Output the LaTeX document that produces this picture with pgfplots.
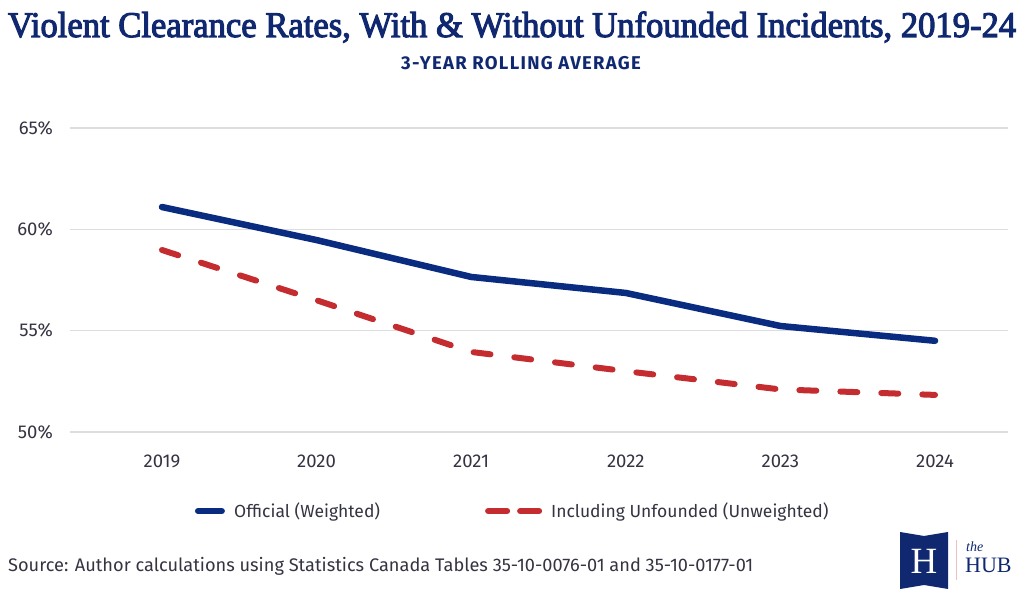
\documentclass[border=0pt]{standalone}
\usepackage{fontspec}
\usepackage{pgfplots}
\pgfplotsset{compat=1.18}
\setmainfont{Fira Sans}
\newfontfamily\titlefont[FakeStretch=0.96, FakeBold=3]{Liberation Serif}
\newfontfamily\subfont[LetterSpace=7]{Fira Sans}
\newfontfamily\logofont{Liberation Serif}
\definecolor{navy}{RGB}{16,40,112}
\definecolor{lineblue}{RGB}{10,44,128}
\definecolor{linered}{RGB}{196,44,48}
\definecolor{txt}{RGB}{52,52,66}
\definecolor{gridc}{RGB}{221,221,221}

\pgfplotsset{
  blueleg/.style={legend image code/.code={
    \draw[##1] (3.25pt,0pt) -- (26.75pt,0pt);
    \path (0pt,0pt) (30pt,0pt);}},
  redleg/.style={legend image code/.code={
    \draw[##1, solid] (3pt,0pt) -- (22pt,0pt);
    \draw[##1, solid] (35pt,0pt) -- (54pt,0pt);
    \path (0pt,0pt) (57pt,0pt);}},
}

\begin{document}
\begin{tikzpicture}[x=1pt,y=1pt]
\useasboundingbox (0,0) rectangle (1024,601);

% title block
\node[anchor=base, inner sep=0] at (512,564)
  {\resizebox{1008pt}{!}{\color{navy}\titlefont Violent Clearance Rates, With \& Without Unfounded Incidents, 2019-24}};
\node[anchor=base, inner sep=0, text=navy, font=\subfont\fontsize{18.5}{20}\selectfont\bfseries] at (521,531) {3-YEAR ROLLING AVERAGE};

\begin{axis}[
  at={(70pt,169pt)}, anchor=south west,
  scale only axis, width=938pt, height=304pt,
  xmin=2018.405, xmax=2024.472,
  ymin=50, ymax=65,
  axis line style={draw=none},
  major tick length=0pt,
  xtick={2019,2020,2021,2022,2023,2024},
  xticklabels={2019,2020,2021,2022,2023,2024},
  ytick={50,55,60,65},
  yticklabels={50\%,55\%,60\%,65\%},
  ymajorgrids,
  grid style={gridc, line width=1.3pt},
  tick label style={text=txt, font=\fontsize{18.5}{20}\selectfont, inner sep=0pt},
  yticklabel style={anchor=east, xshift=-17pt},
  xticklabel style={anchor=north, yshift=-23pt},
  clip=false,
  legend columns=2,
  legend style={at={(0.1295,-0.26)}, anchor=west, draw=none, fill=none,
    inner sep=0pt, nodes={inner sep=0pt, text=txt},
    font=\fontsize{17.5}{19}\selectfont,
    /tikz/every odd column/.append style={column sep=6pt},
    /tikz/every even column/.append style={column sep=102pt}},
]
\addplot[lineblue, line width=6.5pt, line join=round, line cap=round, blueleg] coordinates {
  (2019,61.10) (2020,59.47) (2021,57.65) (2022,56.86) (2023,55.23) (2024,54.50)
};
\addlegendentry{Official (Weighted)}
\addplot[linered, line width=6pt, line join=round, line cap=round,
  dash pattern=on 17pt off 24pt, redleg] coordinates {
  (2019,58.98) (2020,56.50) (2021,53.95) (2022,53.00) (2023,52.10) (2024,51.83)
};
\addlegendentry{Including Unfounded (Unweighted)}
\end{axis}

% source
\node[anchor=base west, inner sep=0, text=txt, font=\fontsize{18.2}{20}\selectfont] at (8,29)
  {Source: Author calculations using Statistics Canada Tables 35-10-0076-01 and 35-10-0177-01};

% logo
\fill[navy] (900,69) -- (924,65) -- (948,69) -- (948,12) -- (924,16) -- (900,12) -- cycle;
\node[text=white, font=\logofont\fontsize{37}{40}\selectfont, inner sep=0] at (924,40) {H};
\draw[linered!30, line width=1pt] (956,61) -- (956,21);
\node[anchor=base west, inner sep=0, text=navy, font=\logofont\itshape\fontsize{14}{16}\selectfont] at (966,49) {the};
\node[anchor=base west, inner sep=0, text=navy, font=\logofont\fontsize{22}{24}\selectfont] at (965,28) {HUB};
\end{tikzpicture}
\end{document}
